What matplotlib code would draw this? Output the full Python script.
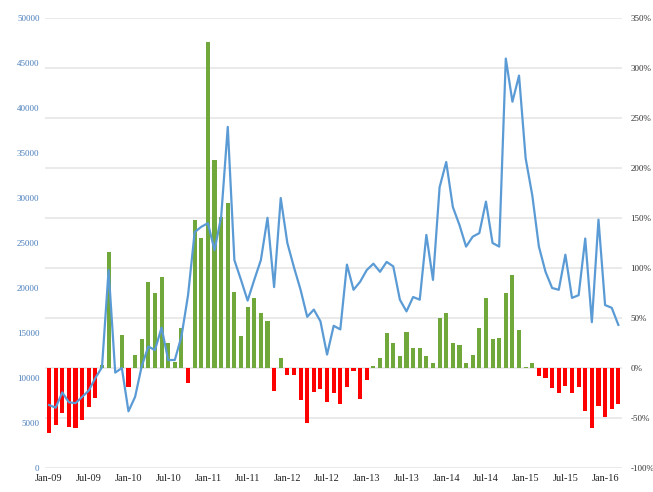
import pandas as pd
import matplotlib.pyplot as plt
from matplotlib.ticker import FuncFormatter

# monthly series, Jan-09 .. Mar-16
months = pd.date_range("2009-01-01", "2016-03-01", freq="MS")

# level (left axis)
level = [7000, 6700, 8400, 7300, 7200, 7900, 8600, 10000, 11200, 22000,
         10600, 11100, 6300, 7900, 11300, 13500, 13100, 15600, 12000, 12000,
         14600, 19200, 26200, 26800, 27200, 24200, 27900, 37900, 23100, 20900,
         18600, 20900, 23100, 27800, 20100, 30000, 25000, 22300, 19800, 16800,
         17600, 16300, 12600, 15800, 15400, 22600, 19800, 20700, 22000, 22700,
         21800, 22900, 22400, 18700, 17400, 19000, 18700, 25900, 20900, 31200,
         34000, 29000, 27000, 24600, 25700, 26100, 29600, 25000, 24600, 45500,
         40700, 43600, 34400, 30300, 24600, 21800, 20000, 19800, 23700, 18900,
         19200, 25500, 16200, 27600, 18100, 17800, 15900]

# year-on-year change in % (right axis)
change = [-65, -57, -45, -59, -60, -52, -39, -30, 3, 116,
          0, 33, -19, 13, 29, 86, 75, 91, 25, 6,
          40, -15, 148, 130, 326, 208, 151, 165, 76, 32,
          61, 70, 55, 47, -23, 10, -7, -7, -32, -55,
          -24, -21, -34, -25, -36, -19, -3, -31, -12, 2,
          10, 35, 25, 12, 36, 20, 20, 12, 5, 50,
          55, 25, 23, 5, 13, 40, 70, 29, 30, 75,
          93, 38, 1, 5, -8, -10, -20, -25, -18, -25,
          -19, -43, -60, -38, -49, -41, -36]

tick_pos = list(range(0, len(months), 6))
tick_labels = [months[i].strftime("%b-%y") for i in tick_pos]

x = list(range(len(months)))
bar_colors = ["#70a83b" if c >= 0 else "#ff0000" for c in change]

fig = plt.figure(figsize=(6.53, 4.92), dpi=100)
ax = fig.add_axes([0.069, 0.0488, 0.884, 0.9146])
ax2 = ax.twinx()

# bars behind the line
ax2.bar(x, change, width=0.62, color=bar_colors, zorder=2)
ax2.set_ylim(-100, 350)
ax2.set_yticks(range(-100, 351, 50))
ax2.yaxis.set_major_formatter(FuncFormatter(lambda v, p: f"{int(v)}%"))
ax2.grid(axis="y", color="#e6e6e6", linewidth=1.2, zorder=0)
ax2.set_axisbelow(True)

ax.plot(x, level, color="#5b9bd5", linewidth=1.6, zorder=3)
ax.set_ylim(0, 50000)
ax.set_yticks(range(0, 50001, 5000))
ax.set_xlim(-0.6, 86.6)
ax.set_xticks(tick_pos)
ax.set_xticklabels(tick_labels)

ax.set_zorder(ax2.get_zorder() + 1)
ax.patch.set_visible(False)

for a in (ax, ax2):
    for s in a.spines.values():
        s.set_visible(False)
    a.tick_params(length=0)

ax.tick_params(axis="y", labelsize=6.5, labelcolor="#4a7ebb", pad=4)
ax.tick_params(axis="x", labelsize=7.5, labelcolor="#222222", pad=4)
ax2.tick_params(axis="y", labelsize=6.5, labelcolor="#333333", pad=6)
for lab in ax.get_xticklabels() + ax.get_yticklabels() + ax2.get_yticklabels():
    lab.set_fontfamily("Liberation Serif")

fig.savefig("out.png", dpi=100)
